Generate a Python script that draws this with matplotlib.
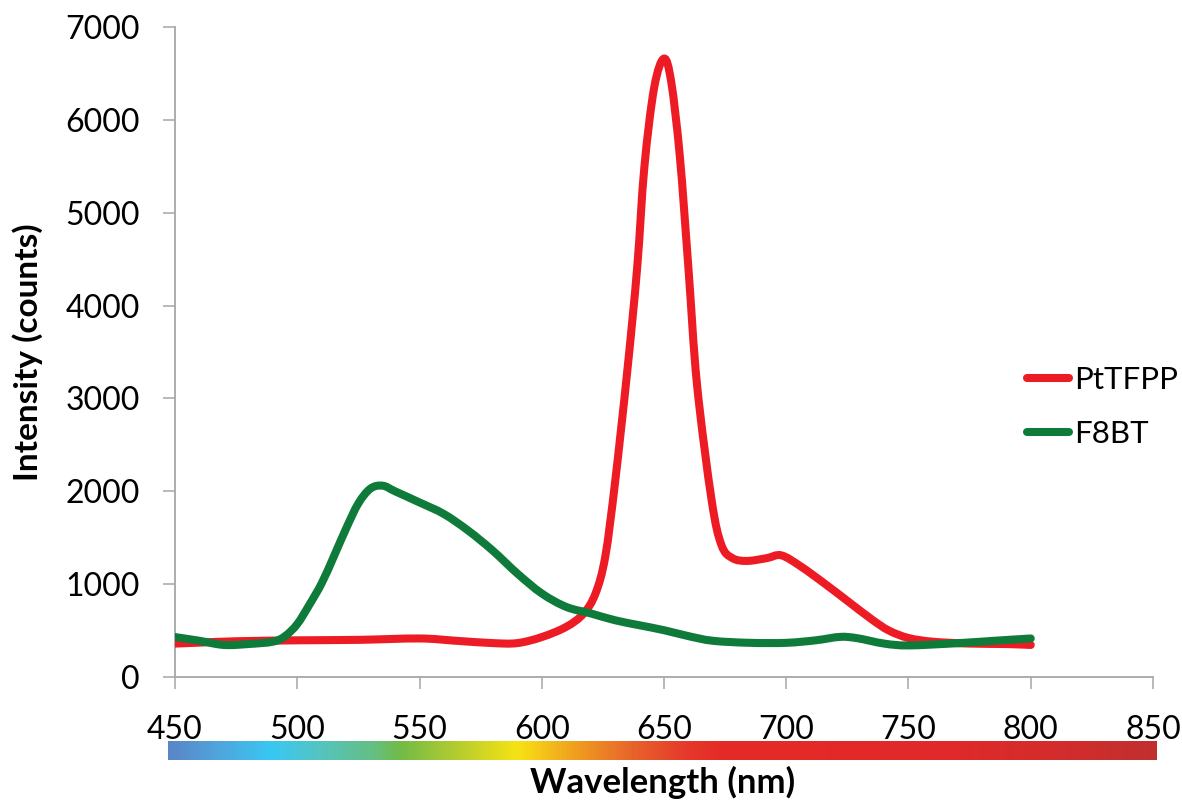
import numpy as np
import matplotlib
matplotlib.use("Agg")
import matplotlib.pyplot as plt
from matplotlib.path import Path
from matplotlib.patches import PathPatch
from matplotlib.lines import Line2D
from matplotlib.colors import LinearSegmentedColormap

# Emission spectra (wavelength in nm, intensity in counts)
pt_wavelength = [450, 460, 475, 500, 525, 550, 565, 580, 590, 600, 610, 617,
                 622, 626, 630, 635, 639, 642, 646, 650, 653, 656.5, 660,
                 663.5, 669.5, 673.5, 678, 684, 692, 698, 706, 716, 725, 735,
                 742, 750, 760, 775, 790, 800]
pt_intensity = [360, 370, 385, 395, 400, 415, 390, 365, 365, 430, 540, 680,
                900, 1300, 2100, 3300, 4400, 5500, 6350, 6660, 6400, 5600,
                4400, 3150, 1900, 1420, 1280, 1250, 1280, 1310, 1190, 1000,
                820, 620, 500, 420, 380, 360, 355, 345]

f8_wavelength = [450, 460, 470, 480, 490, 495, 500, 505, 510, 515, 520, 525,
                 530, 535, 540, 550, 560, 570, 580, 590, 600, 610, 620, 630,
                 640, 650, 660, 670, 685, 700, 712, 722, 729, 740, 750, 770,
                 785, 800]
f8_intensity = [430, 390, 345, 355, 380, 440, 570, 780, 1010, 1300, 1600, 1870,
                2030, 2060, 2000, 1880, 1755, 1575, 1360, 1115, 900, 755, 685,
                611, 557, 504, 440, 390, 368, 368, 395, 432, 418, 360, 340,
                364, 390, 415]

series_names = ["PtTFPP", "F8BT"]
series_colors = ["#ED1C24", "#0F7B3A"]

x_ticks = [450, 500, 550, 600, 650, 700, 750, 800, 850]
y_ticks = [0, 1000, 2000, 3000, 4000, 5000, 6000, 7000]

# Visible-spectrum strip under the wavelength axis (nm, colour)
spectrum_nm = [447, 470, 489, 510, 530, 542, 565, 590, 613, 636, 660, 674,
               760, 810, 852]
spectrum_colors = ["#5A86C6", "#4EA9E0", "#38C8F3", "#56C4BD", "#64BF85",
                   "#72BB46", "#B5CC30", "#F7E314", "#F0A020", "#E8662A",
                   "#E5382A", "#E52B26", "#E2292A", "#D52C2C", "#C0302F"]

FONT = "Lato"
plt.rcParams["font.family"] = [FONT, "DejaVu Sans"]


def smooth_path(xs, ys):
    """Cubic Bezier path through the points (Catmull-Rom tangents)."""
    pts = np.column_stack([xs, ys]).astype(float)
    n = len(pts)
    verts = [pts[0]]
    codes = [Path.MOVETO]
    for i in range(n - 1):
        p0 = pts[i - 1] if i > 0 else pts[i]
        p1 = pts[i]
        p2 = pts[i + 1]
        p3 = pts[i + 2] if i + 2 < n else pts[i + 1]
        c1 = p1 + (p2 - p0) / 6.0
        c2 = p2 - (p3 - p1) / 6.0
        verts += [c1, c2, p2]
        codes += [Path.CURVE4] * 3
    return Path(verts, codes)


W, H = 1182, 800
fig = plt.figure(figsize=(W / 100, H / 100), dpi=100)

ax_l, ax_r, ax_t, ax_b = 175, 1153, 27, 677
ax = fig.add_axes([ax_l / W, 1 - ax_b / H, (ax_r - ax_l) / W, (ax_b - ax_t) / H])

lw = 5.8
for xs, ys, col, z in [(pt_wavelength, pt_intensity, series_colors[0], 3),
                       (f8_wavelength, f8_intensity, series_colors[1], 4)]:
    patch = PathPatch(smooth_path(xs, ys), fill=False, edgecolor=col, lw=lw,
                      capstyle="round", joinstyle="round", zorder=z)
    ax.add_patch(patch)

ax.set_xlim(450, 850)
ax.set_ylim(0, 7000)
ax.set_xticks(x_ticks)
ax.set_yticks(y_ticks)
ax.set_xticklabels([str(v) for v in x_ticks])
ax.set_yticklabels([str(v) for v in y_ticks])

axis_gray = "#A6A6A6"
for side in ["top", "right"]:
    ax.spines[side].set_visible(False)
for side in ["left", "bottom"]:
    ax.spines[side].set_color(axis_gray)
    ax.spines[side].set_linewidth(1.3)

ax.tick_params(axis="both", direction="out", length=8.5, width=1.1,
               color=axis_gray, labelsize=23, labelcolor="black")
ax.tick_params(axis="x", pad=19)
ax.tick_params(axis="y", pad=17)

ax.set_ylabel("Intensity (counts)", fontsize=24, fontweight="bold")
ax.yaxis.set_label_coords((43 - ax_l) / (ax_r - ax_l), 0.5)

handles = [Line2D([0], [0], color=c, lw=lw, solid_capstyle="round")
           for c in series_colors]
leg = ax.legend(handles, series_names, loc="center left",
                bbox_to_anchor=(1027 / W, 1 - 407 / H),
                bbox_transform=fig.transFigure, frameon=False, fontsize=22.5,
                handlelength=1.35, handletextpad=0.15, labelspacing=0.85,
                borderpad=0, borderaxespad=0)

# Spectrum colour strip
cb_l, cb_r, cb_t, cb_b = 168, 1157, 741, 760
cax = fig.add_axes([cb_l / W, 1 - cb_b / H, (cb_r - cb_l) / W, (cb_b - cb_t) / H])
lo, hi = spectrum_nm[0], spectrum_nm[-1]
cmap = LinearSegmentedColormap.from_list(
    "spectrum", [((v - lo) / (hi - lo), c) for v, c in zip(spectrum_nm, spectrum_colors)])
cax.imshow(np.linspace(0, 1, 1024)[None, :], cmap=cmap, aspect="auto",
           extent=[lo, hi, 0, 1], interpolation="bilinear")
cax.set_axis_off()

fig.text(663 / W, 1 - 782 / H, "Wavelength (nm)", ha="center", va="center",
         fontsize=25, fontweight="bold")

fig.savefig("out.png", dpi=100, facecolor="white")
